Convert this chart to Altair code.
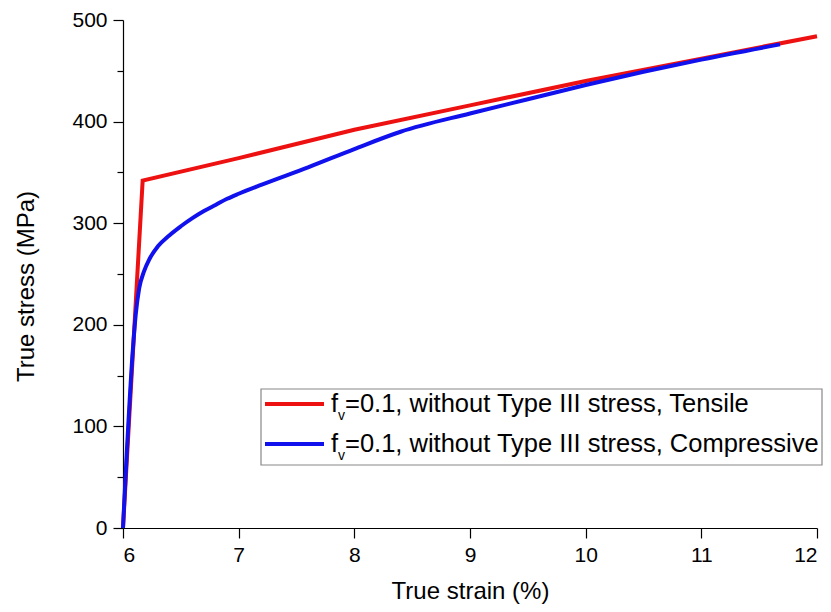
import altair as alt
import pandas as pd

# tensile curve (red)
tens_strain = [6.0, 6.17, 7.0, 8.0, 9.0, 10.0, 11.0, 12.0]
tens_stress = [0, 342, 364, 392, 416, 440, 462, 484]

# compressive curve (blue)
comp_strain = [6.0, 6.085, 6.11, 6.14, 6.18, 6.23, 6.3, 6.4, 6.5, 6.6, 6.7, 6.8,
               6.9, 7.0, 7.2, 7.6, 8.0, 8.4, 9.0, 9.5, 10.0, 10.5, 11.0, 11.68]
comp_stress = [0, 175, 210, 236, 252, 265, 277, 288, 297, 305, 312, 318,
               324, 329, 338, 355, 373, 390, 408, 422, 436, 449, 461, 476]

legend_text = ["=0.1, without Type III stress, Tensile",
               "=0.1, without Type III stress, Compressive"]
colors = ["#ee1111", "#1111ee"]

x_ticks = [6 + 0.5 * i for i in range(13)]
y_ticks = [50 * i for i in range(11)]

W, H = 694, 508
FONT = "Liberation Sans"

tens = pd.DataFrame({"strain": tens_strain, "stress": tens_stress})
comp = pd.DataFrame({"strain": comp_strain, "stress": comp_stress})

x_enc = alt.X(
    "strain:Q",
    scale=alt.Scale(domain=[6, 12], nice=False),
    axis=alt.Axis(
        values=x_ticks,
        format="d",
        labelExpr="datum.value % 1 === 0 ? datum.label : ''",
        tickSize={"condition": {"test": "datum.value % 1 === 0", "value": 10}, "value": 6},
        labelPadding=6,
        title="True strain (%)",
        titlePadding=14,
    ),
)
y_enc = alt.Y(
    "stress:Q",
    scale=alt.Scale(domain=[0, 500], nice=False),
    axis=alt.Axis(
        values=y_ticks,
        labelExpr="datum.value % 100 === 0 ? datum.label : ''",
        tickSize={"condition": {"test": "datum.value % 100 === 0", "value": 10}, "value": 6},
        labelPadding=6,
        title="True stress (MPa)",
        titlePadding=33,
        titleY=266,
    ),
)

red = alt.Chart(tens).mark_line(color=colors[0], strokeWidth=4).encode(x=x_enc, y=y_enc)
blue = alt.Chart(comp).mark_line(color=colors[1], strokeWidth=4, interpolate="monotone").encode(
    x="strain:Q", y="stress:Q"
)

# hand-built legend box
one = pd.DataFrame({"k": [0]})
box = alt.Chart(one).mark_rect(fill="white", stroke="#888888", strokeWidth=1.2).encode(
    x=alt.value(138), x2=alt.value(699), y=alt.value(369), y2=alt.value(445)
)

leg_layers = [box]
for i, (txt, col) in enumerate(zip(legend_text, colors)):
    yy = 384 + 40 * i
    leg_layers.append(
        alt.Chart(one).mark_rule(color=col, strokeWidth=4).encode(
            x=alt.value(142), x2=alt.value(201), y=alt.value(yy)
        )
    )
    leg_layers.append(
        alt.Chart(one).mark_text(text="f", font=FONT, fontSize=25.5, align="left",
                                 baseline="middle", color="black").encode(
            x=alt.value(208), y=alt.value(yy)
        )
    )
    leg_layers.append(
        alt.Chart(one).mark_text(text="v", font=FONT, fontSize=14, align="left",
                                 baseline="middle", color="black").encode(
            x=alt.value(215), y=alt.value(yy + 12)
        )
    )
    leg_layers.append(
        alt.Chart(one).mark_text(text=txt, font=FONT, fontSize=25.5, align="left",
                                 baseline="middle", color="black").encode(
            x=alt.value(222), y=alt.value(yy)
        )
    )

chart = alt.layer(red, blue, *leg_layers).properties(
    width=W,
    height=H,
    autosize=alt.AutoSizeParams(type="none"),
    padding={"left": 115, "top": 12, "right": 6, "bottom": 76},
    background="white",
).configure_view(
    stroke=None
).configure_axis(
    grid=False,
    domainColor="black",
    domainWidth=1.2,
    tickColor="black",
    tickWidth=1.2,
    labelColor="black",
    titleColor="black",
    labelFont=FONT,
    titleFont=FONT,
    labelFontSize=21,
    titleFontSize=24,
    titleFontWeight="normal",
)

chart.save("out.html", embed_options={"renderer": "svg", "actions": False})
